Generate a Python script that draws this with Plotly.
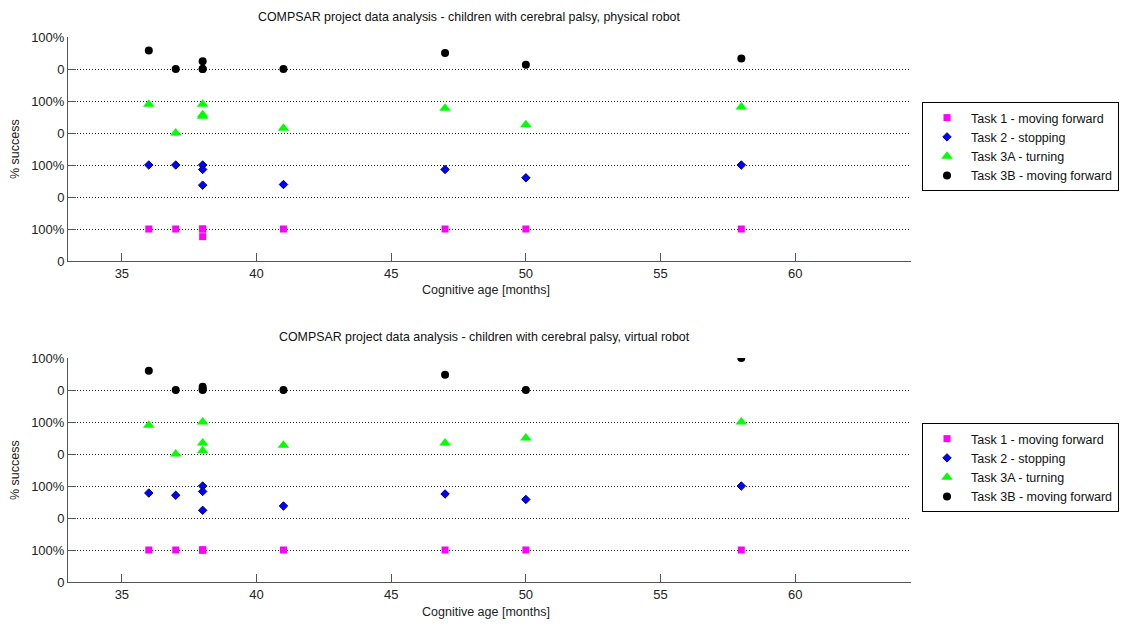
import plotly.graph_objects as go

# ---------------- data ----------------
# cognitive age (months) of each child observation
ages = [36, 37, 38, 38, 38, 41, 47, 50, 58]

# physical robot: success fraction (0..1) per task
phys_task1 = [1.0, 1.0, 1.0, 1.0, 0.76, 1.0, 1.0, 1.0, 1.0]
phys_task2 = [1.0, 1.0, 1.0, 0.86, 0.37, 0.39, 0.86, 0.60, 1.0]
phys_task3a = [0.90, 0.0, 0.90, 0.57, 0.52, 0.15, 0.77, 0.26, 0.81]
phys_task3b = [0.58, 0.0, 0.24, 0.0, 0.0, 0.0, 0.50, 0.13, 0.33]

# virtual robot: success fraction (0..1) per task
virt_task1 = [1.0, 1.0, 1.0, 1.0, 1.0, 1.0, 1.0, 1.0, 1.0]
virt_task2 = [0.78, 0.71, 1.0, 0.83, 0.24, 0.375, 0.75, 0.58, 1.0]
virt_task3a = [0.90, 0.0, 1.0, 0.34, 0.10, 0.27, 0.34, 0.50, 1.0]
virt_task3b = [0.60, 0.0, 0.10, 0.03, 0.0, 0.0, 0.48, 0.0, 1.0]

task_names = ["Task 1 - moving forward", "Task 2 - stopping",
              "Task 3A - turning", "Task 3B - moving forward"]
band_offsets = [0, 2, 4, 6]          # each task drawn in its own band
y_tick_vals = [0, 1, 2, 3, 4, 5, 6, 7]
y_tick_text = ["0", "100%", "0", "100%", "0", "100%", "0", "100%"]
x_tick_vals = [35, 40, 45, 50, 55, 60]

titles = ["COMPSAR project data analysis - children with cerebral palsy, physical robot",
          "COMPSAR project data analysis - children with cerebral palsy, virtual robot"]

styles = [
    dict(symbol="square", color="#ff00ff", size=7, line=dict(width=0)),
    dict(symbol="diamond", color="#0000ff", size=6.5, line=dict(width=1, color="#000080")),
    dict(symbol="triangle-up", color="#00ff00", size=10, line=dict(width=0)),
    dict(symbol="circle", color="#000000", size=8, line=dict(width=0)),
]

# page body has an 8px margin; work in reference pixel coords and shift
OFF = 8
W, H = 1127 - 2 * OFF, 627 - 2 * OFF
FONT = "Liberation Sans, Arial, sans-serif"


def px(rx):
    return (rx - OFF) / W


def py(ry):
    return 1 - (ry - OFF) / H


fig = go.Figure()

panels = [
    dict(data=[phys_task1, phys_task2, phys_task3a, phys_task3b], xa="x", ya="y",
         top=37, bottom=261, legend="legend", title_y=8, title_anchor="top",
         xlabel_y=290, legend_top=102, title_cx=469),
    dict(data=[virt_task1, virt_task2, virt_task3a, virt_task3b], xa="x2", ya="y2",
         top=358, bottom=582, legend="legend2", title_y=337, title_anchor="middle",
         xlabel_y=612, legend_top=423, title_cx=484),
]

left, right = 68, 911

for pi, p in enumerate(panels):
    for ti, vals in enumerate(p["data"]):
        fig.add_trace(go.Scatter(
            x=ages, y=[v + band_offsets[ti] for v in vals],
            mode="markers", name=task_names[ti],
            marker=styles[ti], xaxis=p["xa"], yaxis=p["ya"],
            legend=p["legend"], showlegend=True,
        ))
    suffix = "" if pi == 0 else "2"
    ydom = [py(p["bottom"]), py(p["top"])]
    xdom = [px(left), px(right)]
    common_ax = dict(showline=True, linecolor="#555555", linewidth=1,
                     ticks="inside", ticklen=8, tickcolor="#555555",
                     tickfont=dict(family=FONT, size=13, color="#222222"),
                     automargin=False, zeroline=False)
    fig.layout["xaxis" + suffix] = dict(
        domain=xdom, range=[33.0, 64.3], tickvals=x_tick_vals, showgrid=False,
        anchor="y" + suffix, **common_ax)
    fig.layout["yaxis" + suffix] = dict(
        domain=ydom, range=[0, 7], tickvals=y_tick_vals, ticktext=y_tick_text,
        showgrid=True, gridcolor="#222222", gridwidth=1, griddash="1px,2px",
        anchor="x" + suffix, **common_ax)
    fig.add_annotation(text=titles[pi], xref="paper", yref="paper",
                       x=px(p["title_cx"]), y=py(p["title_y"]), showarrow=False,
                       font=dict(family=FONT, size=12.4, color="#111111"),
                       xanchor="center", yanchor=p["title_anchor"])
    fig.add_annotation(text="Cognitive age [months]", xref="paper", yref="paper",
                       x=px(486), y=py(p["xlabel_y"]), showarrow=False,
                       font=dict(family=FONT, size=12.5, color="#222222"),
                       xanchor="center", yanchor="middle")
    fig.add_annotation(text="% success", xref="paper", yref="paper",
                       x=px(15), y=py((p["top"] + p["bottom"]) / 2), showarrow=False,
                       textangle=-90,
                       font=dict(family=FONT, size=12.5, color="#222222"),
                       xanchor="center", yanchor="middle")
    fig.layout[p["legend"]] = dict(
        x=px(922), y=py(p["legend_top"]), xanchor="left", yanchor="top",
        bordercolor="#000000", borderwidth=1, bgcolor="#ffffff",
        font=dict(family=FONT, size=12.5, color="#111111"),
        tracegroupgap=0, itemsizing="trace", itemwidth=38)

fig.update_layout(width=W, height=H,
                  margin=dict(l=0, r=0, t=0, b=0, autoexpand=False),
                  paper_bgcolor="#ffffff", plot_bgcolor="#ffffff",
                  autosize=False)

fig.write_html("out.html")
